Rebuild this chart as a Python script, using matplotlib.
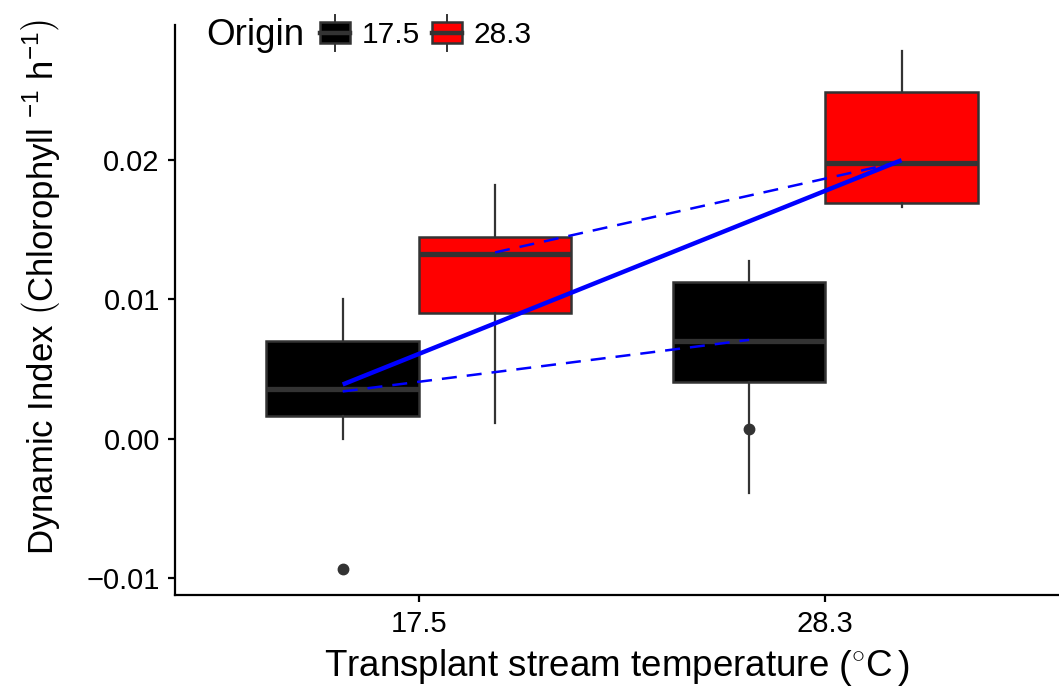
import matplotlib
matplotlib.use("Agg")
import matplotlib.pyplot as plt
from matplotlib.legend_handler import HandlerBase
from matplotlib.patches import Rectangle
from matplotlib.lines import Line2D

plt.rcParams['font.family'] = ['Liberation Sans', 'DejaVu Sans']
plt.rcParams['mathtext.fontset'] = 'custom'
plt.rcParams['mathtext.rm'] = 'Liberation Sans'
plt.rcParams['mathtext.it'] = 'Liberation Sans:italic'

# ---- data ----
transplant = ["17.5", "28.3"]
origins = ["17.5", "28.3"]
colors = {"17.5": "#000000", "28.3": "#ff0000"}

# box statistics per (transplant, origin): whislo, q1, med, q3, whishi, fliers
whislo = {("17.5", "17.5"): 0.0000, ("17.5", "28.3"): 0.00115,
          ("28.3", "17.5"): -0.00388, ("28.3", "28.3"): 0.01662}
q1 = {("17.5", "17.5"): 0.00165, ("17.5", "28.3"): 0.0090,
      ("28.3", "17.5"): 0.0041, ("28.3", "28.3"): 0.0169}
med = {("17.5", "17.5"): 0.0036, ("17.5", "28.3"): 0.01324,
       ("28.3", "17.5"): 0.00705, ("28.3", "28.3"): 0.0198}
q3 = {("17.5", "17.5"): 0.00705, ("17.5", "28.3"): 0.01446,
      ("28.3", "17.5"): 0.01122, ("28.3", "28.3"): 0.0249}
whishi = {("17.5", "17.5"): 0.0100, ("17.5", "28.3"): 0.0182,
          ("28.3", "17.5"): 0.01273, ("28.3", "28.3"): 0.02784}
fliers = {("17.5", "17.5"): [-0.00935], ("17.5", "28.3"): [],
          ("28.3", "17.5"): [0.00072], ("28.3", "28.3"): []}

# mean lines
dashed_origin_means = {"17.5": [0.0034, 0.0071], "28.3": [0.01338, 0.0199]}
solid_line = [0.0039, 0.0200]  # local-origin pairs: (17.5,17.5) -> (28.3,28.3)

yticks = [-0.01, 0.00, 0.01, 0.02]
ytick_labels = ["\u22120.01", "0.00", "0.01", "0.02"]

# ---- figure ----
fig = plt.figure(figsize=(10.59, 6.95), dpi=100)
ax = fig.add_axes([0.1653, 0.1439, 0.8347, 0.8201])

dodge = 0.1875
width = 0.375
edge = "#333333"
pos = {}
for i, t in enumerate(transplant):
    for j, o in enumerate(origins):
        k = (t, o)
        p = i + 1 + (-dodge if j == 0 else dodge)
        pos[k] = p
        st = dict(whislo=whislo[k], q1=q1[k], med=med[k], q3=q3[k],
                  whishi=whishi[k], fliers=fliers[k])
        ax.bxp([st], positions=[p], widths=width, patch_artist=True,
               showcaps=False,
               boxprops=dict(facecolor=colors[o], edgecolor=edge, linewidth=1.8),
               medianprops=dict(color=edge, linewidth=3.8, solid_capstyle='butt'),
               whiskerprops=dict(color=edge, linewidth=1.6),
               flierprops=dict(marker='o', markerfacecolor=edge, markeredgecolor=edge,
                               markersize=7.5))

for o in origins:
    xs = [pos[(t, o)] for t in transplant]
    ax.plot(xs, dashed_origin_means[o], color='#0000ff', lw=1.8,
            dashes=(6, 4), zorder=5)
ax.plot([pos[("17.5", "17.5")], pos[("28.3", "28.3")]], solid_line,
        color='#0000ff', lw=3.2, solid_capstyle='butt', zorder=5)

ax.set_xlim(0.4, 2.575)
ax.set_ylim(-0.01121, 0.0297)
ax.set_xticks([1, 2])
ax.set_xticklabels(transplant)
ax.set_yticks(yticks)
ax.set_yticklabels(ytick_labels)

for s in ['top', 'right']:
    ax.spines[s].set_visible(False)
for s in ['left', 'bottom']:
    ax.spines[s].set_linewidth(1.6)
    ax.spines[s].set_color('black')
ax.tick_params(axis='both', length=5, width=1.6, color='black',
               labelsize=21, labelcolor='black', pad=6)

ax.set_xlabel("Transplant stream temperature $\\left(\\mathrm{{}^{\\circ}C}^{\\,}_{\\,}\\right)$",
              fontsize=26.5, labelpad=6)
ax.set_ylabel("Dynamic Index $\\left(\\mathrm{Chlorophyll}\\ {}^{-1}\\ \\mathrm{h}^{-1}\\right)$",
              fontsize=25)
ax.yaxis.set_label_coords(-0.128, 0.54)


class BoxHandler(HandlerBase):
    def __init__(self, fc):
        super().__init__()
        self.fc = fc

    def create_artists(self, legend, orig_handle, xdescent, ydescent, width,
                       height, fontsize, trans):
        x0, y0 = -xdescent, -ydescent
        bx, bw = x0, width
        by, bh = y0, height
        r = Rectangle((bx, by), bw, bh, facecolor=self.fc, edgecolor=edge,
                      lw=1.8, transform=trans)
        cx = bx + bw / 2
        w1 = Line2D([cx, cx], [y0 - height * 0.33, by], color=edge, lw=1.4,
                    transform=trans)
        w2 = Line2D([cx, cx], [by + bh, y0 + height * 1.33], color=edge, lw=1.4,
                    transform=trans)
        m = Line2D([bx, bx + bw], [by + bh / 2] * 2, color=edge, lw=3.2,
                   transform=trans)
        return [w1, w2, r, m]


h1 = Rectangle((0, 0), 1, 1)
h2 = Rectangle((0, 0), 1, 1)
leg = ax.legend([h1, h2], origins, handler_map={h1: BoxHandler(colors["17.5"]),
                                                h2: BoxHandler(colors["28.3"])},
                ncol=2, loc='center left', bbox_to_anchor=(0.164, 0.982),
                frameon=False, fontsize=21.5, handlelength=1.0, handleheight=0.72,
                handletextpad=0.4, columnspacing=0.4, borderaxespad=0,
                borderpad=0)
fig.text(0.195, 0.949, "Origin", fontsize=26.5, ha='left', va='center')

fig.savefig("out.png", dpi=100)
